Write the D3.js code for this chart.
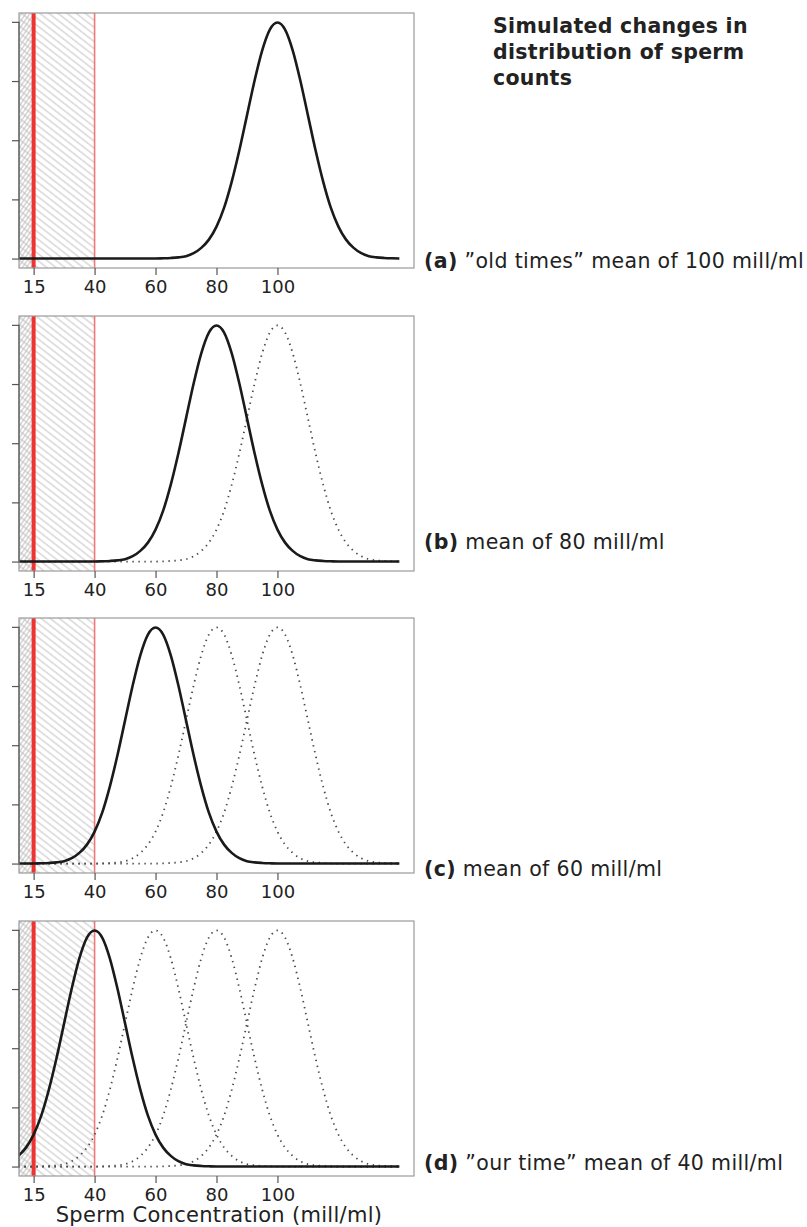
<!DOCTYPE html>
<html>
<head>
<meta charset="utf-8">
<script src="https://cdn.jsdelivr.net/npm/d3@7"></script>
<style>
  html, body { margin: 0; padding: 0; background: #fff; }
  svg { display: block; }
</style>
</head>
<body>
<svg id="chart" width="807" height="1227"></svg>
<script>
// ---------------- data ----------------
const panelMeans = [100, 80, 60, 40];
const panelTags = ["(a)", "(b)", "(c)", "(d)"];
const panelTexts = [
  "\u201Dold times\u201D mean of 100 mill/ml",
  "mean of 80 mill/ml",
  "mean of 60 mill/ml",
  "\u201Dour time\u201D mean of 40 mill/ml"
];
const titleLines = ["Simulated changes in", "distribution of sperm", "counts"];
const xAxisTitle = "Sperm Concentration (mill/ml)";
const xTickValues = [20, 40, 60, 80, 100];
const xTickLabels = ["15", "40", "60", "80", "100"];
const yTickValues = [0, 0.01, 0.02, 0.03, 0.04];
const xDataRange = [20, 140];
const curveRange = [15, 140];
const thresholdLow = 20;   // thick red line (labelled 15)
const thresholdHigh = 40;  // thin red line
// density profile, offset from the mean (mill/ml)
const profileOffsets = [-40, -37.5, -35, -32.5, -30, -27.5, -25, -22.5, -20, -17.5, -15, -12.5, -10, -7.5, -5, -2.5, 0,
                        2.5, 5, 7.5, 10, 12.5, 15, 17.5, 20, 22.5, 25, 27.5, 30, 32.5, 35, 37.5, 40];
const profileDensity = [0, 0.00004, 0.0001, 0.0002, 0.0004, 0.0009, 0.0018, 0.0032, 0.0054, 0.0086, 0.0130, 0.0183, 0.0242, 0.0301, 0.0352, 0.0387, 0.0399,
                        0.0387, 0.0352, 0.0301, 0.0242, 0.0183, 0.0130, 0.0086, 0.0054, 0.0032, 0.0018, 0.0009, 0.0004, 0.0002, 0.0001, 0.00004, 0];
const peakDensity = 0.0399;

// ---------------- layout ----------------
const svg = d3.select("#chart");
const frameLeft = 19, frameRight = 414;
const panelTops = [13, 316, 618, 921];
const panelH = 255;
const labelBaselines = [268, 549, 876, 1170];
const FONT = "'DejaVu Sans', Verdana, sans-serif";

const xPad = (xDataRange[1] - xDataRange[0]) * 0.04;
const x = d3.scaleLinear()
  .domain([xDataRange[0] - xPad, xDataRange[1] + xPad])
  .range([frameLeft, frameRight]);

// patterns
const defs = svg.append("defs");
const p1 = defs.append("pattern").attr("id", "hatchA")
  .attr("patternUnits", "userSpaceOnUse").attr("width", 12).attr("height", 5.6)
  .attr("patternTransform", "rotate(38)");
p1.append("line").attr("x1", 0).attr("x2", 12).attr("y1", 2.8).attr("y2", 2.8)
  .attr("stroke", "#c6c6c6").attr("stroke-width", 1.05);
const p2 = defs.append("pattern").attr("id", "hatchB")
  .attr("patternUnits", "userSpaceOnUse").attr("width", 12).attr("height", 3.4)
  .attr("patternTransform", "rotate(-55)");
p2.append("line").attr("x1", 0).attr("x2", 12).attr("y1", 1.7).attr("y2", 1.7)
  .attr("stroke", "#b8b8b8").attr("stroke-width", 0.9);

function curvePoints(mean) {
  const pts = [];
  const first = mean + profileOffsets[0];
  if (first > curveRange[0]) pts.push([curveRange[0], 0]);
  profileOffsets.forEach((o, i) => {
    const xv = mean + o;
    if (xv >= curveRange[0] && xv <= curveRange[1]) pts.push([xv, profileDensity[i]]);
  });
  const last = mean + profileOffsets[profileOffsets.length - 1];
  if (last < curveRange[1]) pts.push([curveRange[1], 0]);
  return pts;
}

panelMeans.forEach((mean, pi) => {
  const top = panelTops[pi], bottom = top + panelH;
  const yPad = peakDensity * 0.04;
  const y = d3.scaleLinear().domain([-yPad, peakDensity + yPad]).range([bottom, top]);
  const g = svg.append("g");

  const clipId = "clip" + pi;
  defs.append("clipPath").attr("id", clipId)
    .append("rect").attr("x", frameLeft).attr("y", top)
    .attr("width", frameRight - frameLeft).attr("height", panelH);

  // hatched areas
  g.append("rect").attr("x", frameLeft).attr("y", top)
    .attr("width", x(thresholdHigh) - frameLeft).attr("height", panelH)
    .attr("fill", "url(#hatchA)");
  g.append("rect").attr("x", frameLeft).attr("y", top)
    .attr("width", x(thresholdLow) - frameLeft).attr("height", panelH)
    .attr("fill", "url(#hatchB)");

  // red threshold lines
  g.append("line").attr("x1", x(thresholdHigh)).attr("x2", x(thresholdHigh))
    .attr("y1", top).attr("y2", bottom)
    .attr("stroke", "#f07878").attr("stroke-width", 1.6);
  g.append("line").attr("x1", x(thresholdLow)).attr("x2", x(thresholdLow))
    .attr("y1", top).attr("y2", bottom)
    .attr("stroke", "#ee3333").attr("stroke-width", 4);

  const line = d3.line().x(d => x(d[0])).y(d => y(d[1])).curve(d3.curveMonotoneX);
  const cg = g.append("g").attr("clip-path", `url(#${clipId})`);

  // dotted earlier distributions
  panelMeans.slice(0, pi).forEach(m => {
    cg.append("path").datum(curvePoints(m)).attr("d", line)
      .attr("fill", "none").attr("stroke", "#4a4a4a").attr("stroke-width", 1.8)
      .attr("stroke-dasharray", "1.4 4.6");
  });
  // current distribution
  cg.append("path").datum(curvePoints(mean)).attr("d", line)
    .attr("fill", "none").attr("stroke", "#1a1a1a").attr("stroke-width", 2.6);

  // frame
  g.append("rect").attr("x", frameLeft).attr("y", top)
    .attr("width", frameRight - frameLeft).attr("height", panelH)
    .attr("fill", "none").attr("stroke", "#9a9a9a").attr("stroke-width", 1.2);

  // y axis (no labels)
  const yAxis = d3.axisLeft(y).tickValues(yTickValues).tickSize(7).tickFormat("");
  const ya = g.append("g").attr("transform", `translate(${frameLeft},0)`).call(yAxis);
  ya.select(".domain").attr("d", `M0,${y(0)}V${y(0.04)}`).attr("stroke", "#555").attr("stroke-width", 1.2);
  ya.selectAll(".tick line").attr("stroke", "#555").attr("stroke-width", 1.2);

  // x axis
  const xAxis = d3.axisBottom(x).tickValues(xTickValues).tickSize(7)
    .tickFormat((d, i) => xTickLabels[i]).tickPadding(5);
  const xa = g.append("g").attr("transform", `translate(0,${bottom})`).call(xAxis);
  xa.select(".domain").remove();
  xa.selectAll(".tick line").attr("stroke", "#555").attr("stroke-width", 1.2);
  xa.selectAll(".tick text").attr("font-family", FONT).attr("font-size", 18)
    .attr("fill", "#222");

  // panel label
  const t = svg.append("text").attr("x", 424).attr("y", labelBaselines[pi])
    .attr("font-family", FONT).attr("font-size", 20.5).attr("fill", "#222")
    .attr("letter-spacing", 0.35);
  t.append("tspan").attr("font-weight", "bold").text(panelTags[pi]);
  t.append("tspan").text(" " + panelTexts[pi]);
});

// title
titleLines.forEach((s, i) => {
  svg.append("text").attr("x", 493).attr("y", 33 + i * 26)
    .attr("font-family", FONT).attr("font-size", 20.5).attr("font-weight", "bold")
    .attr("fill", "#222").attr("letter-spacing", 0.3).text(s);
});

// x-axis title
svg.append("text").attr("x", 219).attr("y", 1222).attr("text-anchor", "middle")
  .attr("font-family", FONT).attr("font-size", 21).attr("fill", "#222")
  .attr("letter-spacing", 0.3)
  .text(xAxisTitle);
</script>
</body>
</html>
